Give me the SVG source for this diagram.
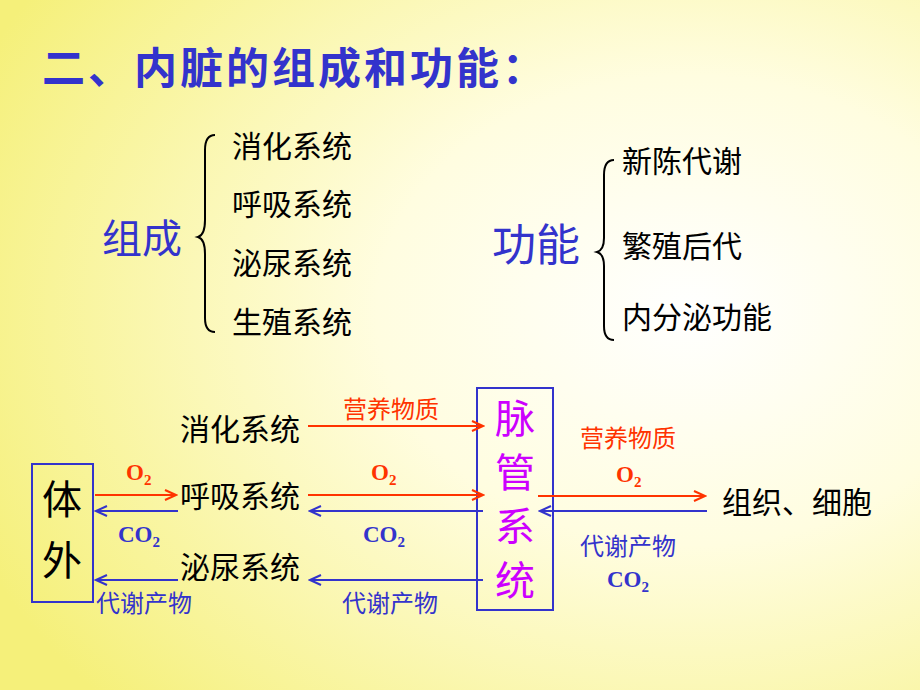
<svg xmlns="http://www.w3.org/2000/svg" width="920" height="690" viewBox="0 0 920 690">
<defs>
<radialGradient id="bg" cx="0.75" cy="0.45" r="0.85">
<stop offset="0" stop-color="#ffffff"/><stop offset="0.4" stop-color="#fffde0"/><stop offset="1" stop-color="#f5f07a"/>
</radialGradient>
<marker id="ar" markerWidth="14" markerHeight="12" refX="12" refY="6" orient="auto" markerUnits="userSpaceOnUse"><path d="M1,1 L12,6 L1,11" fill="none" stroke="#ff3300" stroke-width="2"/></marker>
<marker id="ab" markerWidth="14" markerHeight="12" refX="12" refY="6" orient="auto" markerUnits="userSpaceOnUse"><path d="M1,1 L12,6 L1,11" fill="none" stroke="#3333cc" stroke-width="2"/></marker>
</defs>
<style>
text{font-family:"Noto Sans CJK SC","Liberation Sans",sans-serif}
.k{font-size:30px;fill:#000}
.r{font-size:24px;fill:#ff3300}
.b{font-size:24px;fill:#3333cc}
.fr{font-family:"Liberation Serif",serif;font-weight:bold;font-size:23px;fill:#ff3300}
.fb{font-family:"Liberation Serif",serif;font-weight:bold;font-size:23px;fill:#3333cc}
.lr{stroke:#ff3300;stroke-width:2;fill:none;marker-end:url(#ar)}
.lb{stroke:#3333cc;stroke-width:2;fill:none;marker-end:url(#ab)}
</style>
<rect width="920" height="690" fill="url(#bg)"/>
<text x="42" y="84" font-size="43" font-weight="bold" fill="#3333cc" letter-spacing="3">二、内脏的组成和功能：</text>
<g id="zucheng">
<text x="102" y="253" font-size="40" fill="#3333cc">组成</text>
<path d="M215,135 Q205,135 205,150 L205,220 Q205,235 198,237 Q205,239 205,254 L205,318 Q205,332 215,332" fill="none" stroke="#000" stroke-width="2"/>
<text class="k" x="232" y="157">消化系统</text>
<text class="k" x="232" y="215">呼吸系统</text>
<text class="k" x="232" y="274">泌尿系统</text>
<text class="k" x="232" y="333">生殖系统</text>
</g>
<g id="gongneng">
<text x="492" y="261" font-size="44" fill="#3333cc">功能</text>
<path d="M614,160 Q604,160 604,175 L604,238 Q604,250 597,252 Q604,254 604,266 L604,326 Q604,340 614,340" fill="none" stroke="#000" stroke-width="2"/>
<text class="k" x="622" y="172">新陈代谢</text>
<text class="k" x="622" y="257">繁殖后代</text>
<text class="k" x="622" y="328">内分泌功能</text>
</g>
<g id="tiwai"><rect x="32" y="464" width="61" height="138" fill="none" stroke="#3333cc" stroke-width="2"/>
<text x="42" y="514" font-size="40" fill="#000">体</text><text x="42" y="575" font-size="40" fill="#000">外</text></g>
<g id="maiguan"><rect x="477" y="388" width="76" height="222" fill="none" stroke="#3333cc" stroke-width="2"/>
<g font-size="40" fill="#cc00ff"><text x="495" y="433">脉</text><text x="495" y="487">管</text><text x="495" y="541">系</text><text x="495" y="595">统</text></g></g>
<g id="systems">
<text class="k" x="180" y="440">消化系统</text>
<text class="k" x="180" y="507">呼吸系统</text>
<text class="k" x="180" y="578">泌尿系统</text>
<text class="k" x="722" y="513">组织、细胞</text>
</g>
<g id="connectors">
<line class="lr" x1="308" y1="426" x2="483" y2="426"/>
<line class="lr" x1="95" y1="495" x2="176" y2="495"/>
<line class="lb" x1="178" y1="511" x2="96" y2="511"/>
<line class="lr" x1="308" y1="495" x2="483" y2="495"/>
<line class="lb" x1="483" y1="511" x2="310" y2="511"/>
<line class="lb" x1="178" y1="580" x2="96" y2="580"/>
<line class="lb" x1="483" y1="580" x2="310" y2="580"/>
<line class="lr" x1="538" y1="496" x2="705" y2="496"/>
<line class="lb" x1="707" y1="511" x2="540" y2="511"/>
</g>
<g id="labels">
<text class="r" x="343" y="418">营养物质</text>
<text class="fr" x="126" y="480">O<tspan font-size="15" dy="5">2</tspan></text>
<text class="fb" x="118" y="542">CO<tspan font-size="15" dy="5">2</tspan></text>
<text class="b" x="96" y="612">代谢产物</text>
<text class="fr" x="371" y="480">O<tspan font-size="15" dy="5">2</tspan></text>
<text class="fb" x="363" y="542">CO<tspan font-size="15" dy="5">2</tspan></text>
<text class="b" x="342" y="612">代谢产物</text>
<text class="r" x="580" y="447">营养物质</text>
<text class="fr" x="616" y="482">O<tspan font-size="15" dy="5">2</tspan></text>
<text class="b" x="580" y="555">代谢产物</text>
<text class="fb" x="607" y="587">CO<tspan font-size="15" dy="5">2</tspan></text>
</g>
</svg>
